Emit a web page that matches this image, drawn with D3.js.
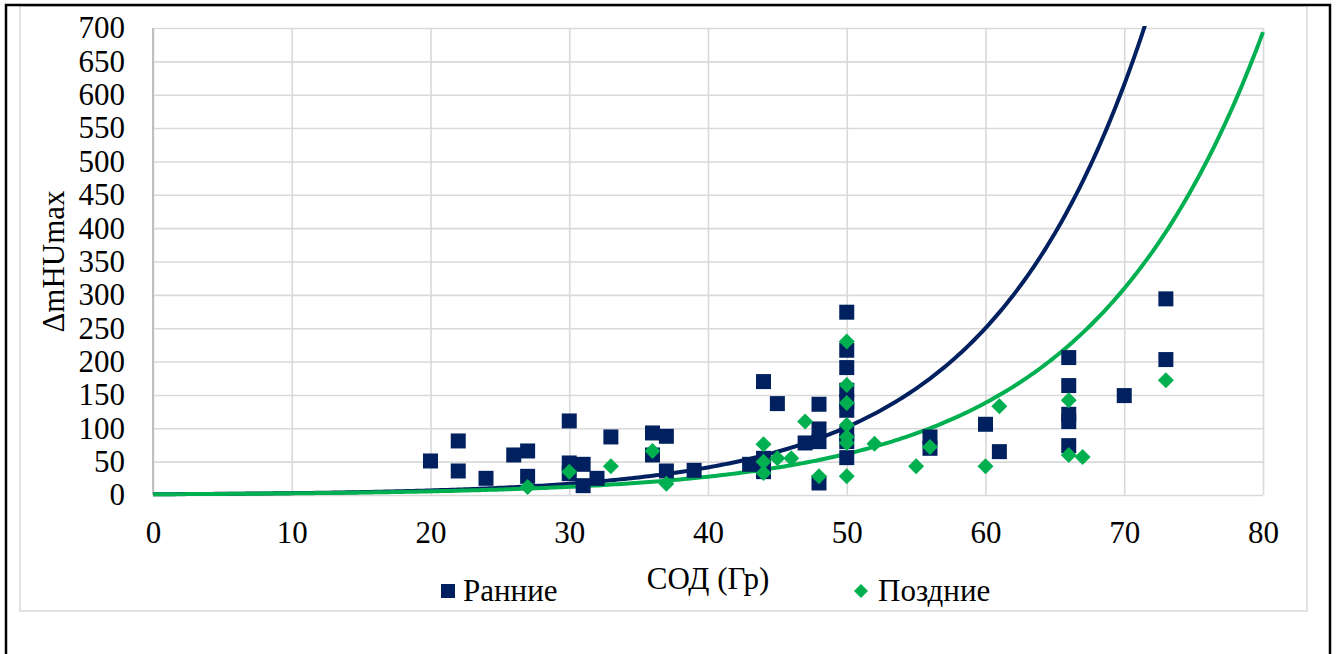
<!DOCTYPE html>
<html>
<head>
<meta charset="utf-8">
<script src="https://cdn.jsdelivr.net/npm/d3@7"></script>
<style>
  html, body { margin: 0; padding: 0; background: #fff; }
  svg { display: block; }
  text { font-family: "Liberation Serif", "Times New Roman", serif; fill: #000; }
</style>
</head>
<body>
<svg id="chart" width="1339" height="654"></svg>
<script>
// Early-response series (navy squares): dose in Gy, ΔmHUmax
const earlyX = [20, 22, 22, 24, 26, 27, 27, 30, 30, 30, 31, 31, 32, 33, 36, 36, 37, 37, 39,
                43, 44, 44, 44, 45, 47, 48, 48, 48, 48,
                50, 50, 50, 50, 50, 50, 50, 50, 50,
                56, 56, 60, 61, 66, 66, 66, 66, 66, 70, 73, 73];
const earlyY = [51, 81, 36, 25, 60, 66, 28, 111, 48, 32, 46, 14, 25, 87, 93, 60, 88, 36, 37,
                46, 170, 55, 35, 137, 78, 136, 99, 80, 18,
                274, 217, 191, 157, 140, 127, 92, 80, 56,
                87, 70, 106, 65, 206, 164, 121, 110, 74, 149, 294, 203];

// Late-response series (green diamonds)
const lateX = [27, 30, 33, 36, 37, 44, 44, 44, 45, 46, 47, 48,
               50, 50, 50, 50, 50, 50, 50, 52, 55, 56, 60, 61, 66, 66, 67, 73];
const lateY = [12, 35, 43, 66, 17, 76, 50, 33, 55, 55, 110, 28,
               230, 165, 138, 105, 87, 78, 28, 77, 43, 72, 43, 133, 142, 60, 57, 172];

// Exponential trend-line coefficients, y = a·e^(b·x)
const trendEarly = [1.13, 0.09];
const trendLate = [1.09, 0.0807];

const xTicks = [0, 10, 20, 30, 40, 50, 60, 70, 80];
const yTicks = [0, 50, 100, 150, 200, 250, 300, 350, 400, 450, 500, 550, 600, 650, 700];

const seriesNames = ["Ранние", "Поздние"];
const xTitle = "СОД (Гр)";
const yTitle = "ΔmHUmax";

const NAVY = "#002060";
const GREEN = "#00B050";
const GRID = "#d9d9d9";

const svg = d3.select("#chart");
const plot = { left: 153, right: 1263, top: 28, bottom: 495 };

// Frames
svg.append("rect")
  .attr("x", 20).attr("y", 6).attr("width", 1287).attr("height", 605)
  .attr("fill", "#fff").attr("stroke", GRID).attr("stroke-width", 1.5);
svg.append("rect")
  .attr("x", 6).attr("y", 5).attr("width", 1324).attr("height", 700)
  .attr("fill", "none").attr("stroke", "#000").attr("stroke-width", 2.5);

const x = d3.scaleLinear().domain([0, 80]).range([plot.left, plot.right]);
const y = d3.scaleLinear().domain([0, 700]).range([plot.bottom, plot.top]);

// Gridlines
svg.append("g")
  .attr("transform", `translate(0,${plot.bottom})`)
  .call(d3.axisBottom(x).tickValues(xTicks).tickSize(-(plot.bottom - plot.top)).tickFormat(""))
  .call(g => g.select(".domain").remove())
  .call(g => g.selectAll("line").attr("stroke", GRID).attr("stroke-width", 1.6));
svg.append("g")
  .attr("transform", `translate(${plot.left},0)`)
  .call(d3.axisLeft(y).tickValues(yTicks).tickSize(-(plot.right - plot.left)).tickFormat(""))
  .call(g => g.select(".domain").remove())
  .call(g => g.selectAll("line").attr("stroke", GRID).attr("stroke-width", 1.6));

// Vertical axis line
svg.append("line")
  .attr("x1", plot.left).attr("x2", plot.left)
  .attr("y1", plot.top).attr("y2", plot.bottom)
  .attr("stroke", "#bfbfbf").attr("stroke-width", 2);

// Tick labels
const yAxis = svg.append("g")
  .attr("transform", `translate(125,0)`)
  .call(d3.axisLeft(y).tickValues(yTicks).tickSize(0).tickPadding(0));
yAxis.select(".domain").remove();
yAxis.selectAll("text")
  .attr("font-family", "Liberation Serif, Times New Roman, serif")
  .attr("font-size", 31).attr("fill", "#000").attr("dy", "0.32em");

const xAxis = svg.append("g")
  .attr("transform", `translate(0,${plot.bottom})`)
  .call(d3.axisBottom(x).tickValues(xTicks).tickSize(0).tickPadding(0));
xAxis.select(".domain").remove();
xAxis.selectAll("text")
  .attr("font-family", "Liberation Serif, Times New Roman, serif")
  .attr("font-size", 31).attr("fill", "#000").attr("dy", null).attr("y", 48);

// Axis titles
svg.append("text")
  .attr("x", 708).attr("y", 589)
  .attr("text-anchor", "middle").attr("font-size", 31)
  .text(xTitle);
svg.append("text")
  .attr("transform", `translate(64,${(plot.top + plot.bottom) / 2}) rotate(-90)`)
  .attr("text-anchor", "middle").attr("font-size", 31)
  .text(yTitle);

// Clip region for trend lines
svg.append("clipPath").attr("id", "plotClip")
  .append("rect")
  .attr("x", plot.left).attr("y", plot.top - 2)
  .attr("width", plot.right - plot.left + 2).attr("height", plot.bottom - plot.top + 4);

const xs = d3.range(0, 80.001, 0.25);
const line = d3.line().x(d => x(d[0])).y(d => y(d[1]));
function trendPoints(c) {
  return xs.map(v => [v, Math.min(c[0] * Math.exp(c[1] * v), 760)]);
}

const lines = svg.append("g").attr("clip-path", "url(#plotClip)");
lines.append("path")
  .attr("d", line(trendPoints(trendEarly)))
  .attr("fill", "none").attr("stroke", NAVY).attr("stroke-width", 4);
lines.append("path")
  .attr("d", line(trendPoints(trendLate)))
  .attr("fill", "none").attr("stroke", GREEN).attr("stroke-width", 4);

// Markers
const square = d3.symbol().type(d3.symbolSquare).size(15 * 15);
const diamond = "M0,-8 L8,0 L0,8 L-8,0 Z";

svg.append("g").selectAll("path")
  .data(earlyX.map((v, i) => [v, earlyY[i]]))
  .join("path")
  .attr("d", square)
  .attr("transform", d => `translate(${x(d[0])},${y(d[1])})`)
  .attr("fill", NAVY);

svg.append("g").selectAll("path")
  .data(lateX.map((v, i) => [v, lateY[i]]))
  .join("path")
  .attr("d", diamond)
  .attr("transform", d => `translate(${x(d[0])},${y(d[1])})`)
  .attr("fill", GREEN);

// Legend
const legend = svg.append("g");
legend.append("path")
  .attr("d", d3.symbol().type(d3.symbolSquare).size(14 * 14))
  .attr("transform", "translate(448,591)").attr("fill", NAVY);
legend.append("text").attr("x", 463).attr("y", 601).attr("font-size", 31).text(seriesNames[0]);
legend.append("path")
  .attr("d", "M0,-7 L7,0 L0,7 L-7,0 Z")
  .attr("transform", "translate(861,591)").attr("fill", GREEN);
legend.append("text").attr("x", 878).attr("y", 601).attr("font-size", 31).text(seriesNames[1]);
</script>
</body>
</html>
